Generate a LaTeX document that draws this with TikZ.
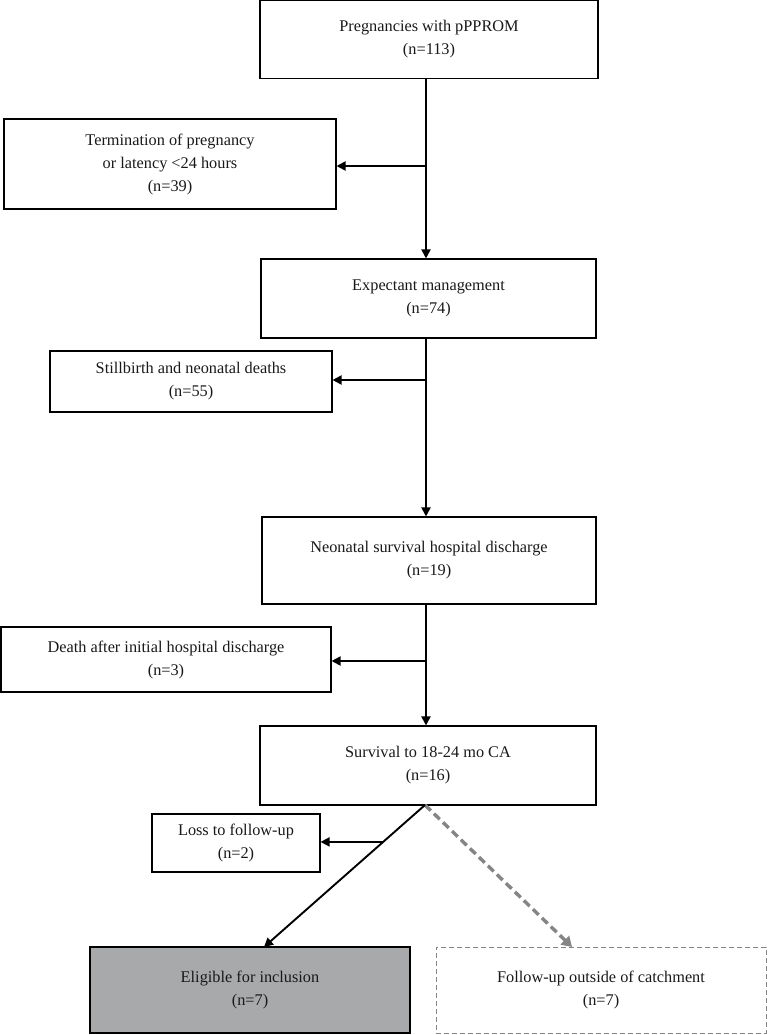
\documentclass[tikz,border=0pt]{standalone}
\usepackage{fontspec}
\setmainfont{Liberation Serif}
\usetikzlibrary{arrows.meta,calc}
\definecolor{boxgray}{HTML}{A7A9AA}
\definecolor{dashgray}{HTML}{858585}
\begin{document}
\begin{tikzpicture}[x=1pt,y=-1pt,
  box/.style={draw=black, line width=1.1pt, inner sep=0pt, align=center,
    font=\fontsize{16.3}{23}\selectfont, text=black!90},
  arr/.style={line width=1.9pt, -{Triangle[length=9pt,width=9pt]}},
  darr/.style={draw=dashgray, line width=3.4pt, dash pattern=on 8pt off 4.5pt,
    -{Triangle[length=10pt,width=12pt]}},
  dbox/.style={box, draw=dashgray, line width=1pt, dash pattern=on 5pt off 3pt}]
\useasboundingbox (0,0) rectangle (769,1035);
\node[box, minimum width=338pt, minimum height=78pt] (b1) at (429,39.5) {Pregnancies with pPPROM\\(n=113)};
\node[box, minimum width=332pt, minimum height=90pt] (b2) at (170,164) {Termination of pregnancy\\or latency <24 hours\\(n=39)};
\node[box, minimum width=335pt, minimum height=79pt] (b3) at (428.5,298.5) {Expectant management\\(n=74)};
\node[box, minimum width=282pt, minimum height=61pt] (b4) at (191,381.5) {Stillbirth and neonatal deaths\\(n=55)};
\node[box, minimum width=334pt, minimum height=87pt] (b5) at (429,560.5) {Neonatal survival hospital discharge\\(n=19)};
\node[box, minimum width=330pt, minimum height=65pt] (b6) at (166,659.5) {Death after initial hospital discharge\\(n=3)};
\node[box, minimum width=336pt, minimum height=79pt] (b7) at (428,765.5) {Survival to 18-24 mo CA\\(n=16)};
\node[box, minimum width=168pt, minimum height=58pt] (b8) at (236,843) {Loss to follow-up\\(n=2)};
\node[box, fill=boxgray, minimum width=320pt, minimum height=86pt] (b9) at (250,990) {Eligible for inclusion\\(n=7)};
\node[dbox, minimum width=330pt, minimum height=86pt] (b10) at (601,990) {Follow-up outside of catchment\\(n=7)};
% main spine
\coordinate (j1) at (426,166);
\coordinate (j2) at (426,380);
\coordinate (j3) at (426,661);
\draw[arr] (b1.south -| j1) -- (b3.north -| j1);
\draw[arr] (j1) -- (b2.east |- j1);
\draw[arr] (b3.south -| j2) -- (b5.north -| j2);
\draw[arr] (j2) -- (b4.east |- j2);
\draw[arr] (b5.south -| j3) -- (b7.north -| j3);
\draw[arr] (j3) -- (b6.east |- j3);
% split
\coordinate (s7) at (425,805);
\coordinate (e9) at (264,947);
\coordinate (e10) at (572,947);
\coordinate (j4) at ($(s7)!0.26!(e9)$);
\draw[darr] (s7) -- (e10);
\draw[arr] (s7) -- (e9);
\draw[arr] (j4) -- (b8.east |- j4);
\end{tikzpicture}
\end{document}
